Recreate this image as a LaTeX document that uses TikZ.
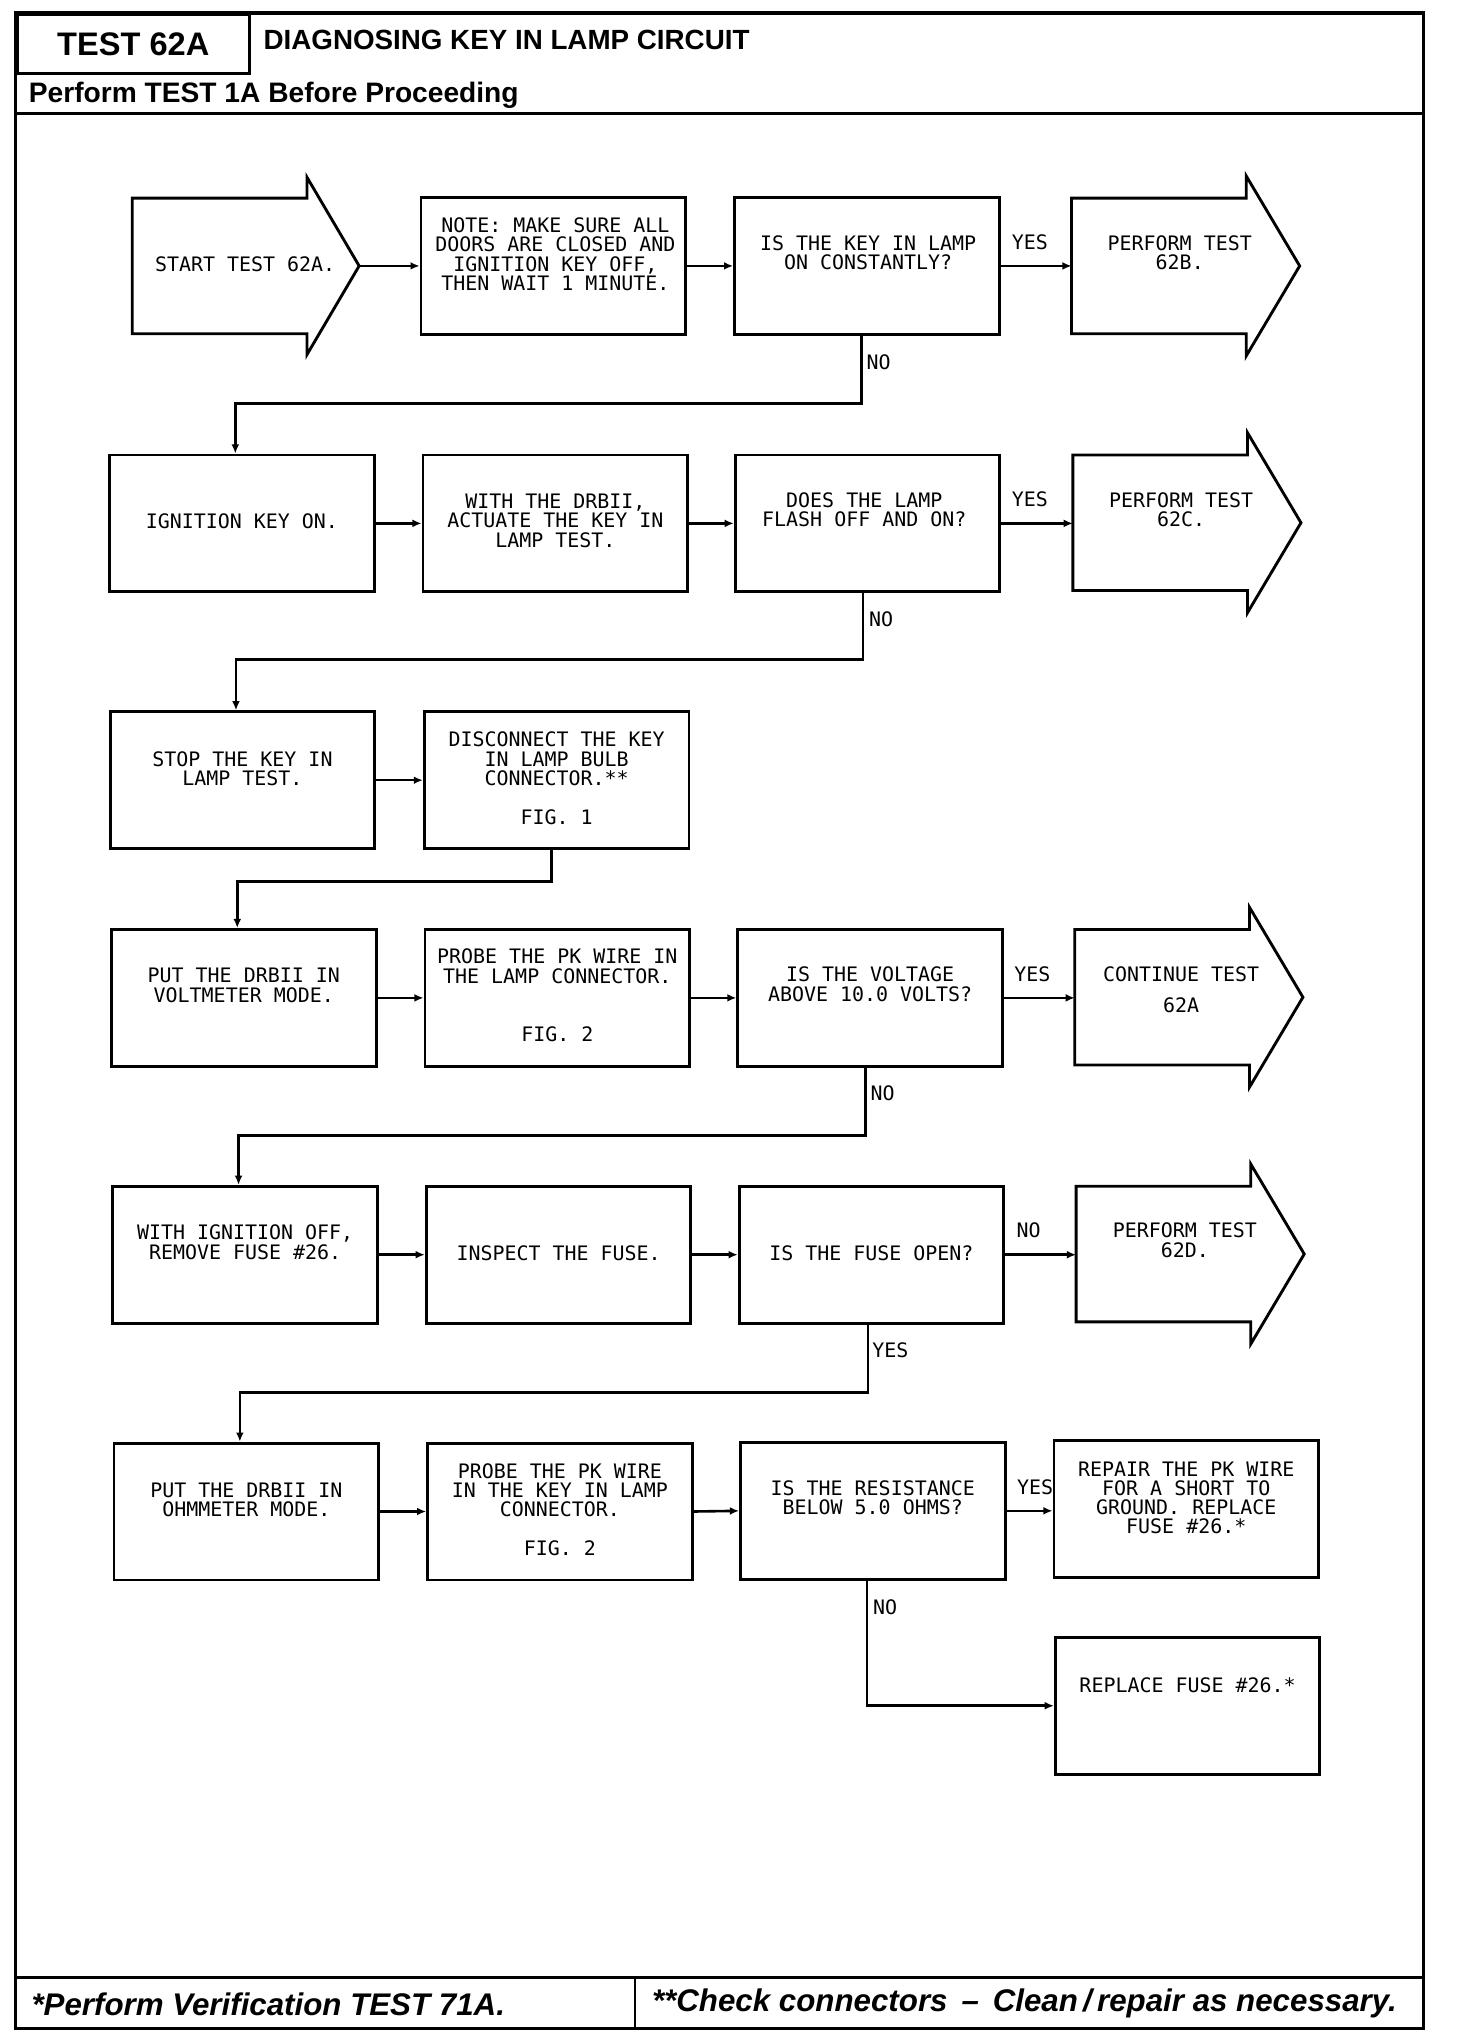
\documentclass[tikz,border=0pt]{standalone}
\usepackage{fontspec}
\newfontfamily\plotfont{DejaVu Sans Mono}
\newfontfamily\helfont{Liberation Sans}
\usetikzlibrary{arrows.meta}
\begin{document}
\begin{tikzpicture}[x=1pt,y=-1pt,
  frame/.style={line width=2.5pt},
  box/.style={draw, line width=2.2pt, rectangle, inner sep=0pt,
    minimum width=203pt, minimum height=105pt},
  abox/.style={rectangle, inner sep=0pt, outer sep=0pt,
    minimum width=134pt, minimum height=104pt},
  aline/.style={draw, line width=2.2pt, line join=miter},
  conn/.style={line width=2pt, -{Latex[length=7pt,width=6pt]}},
  txt/.style={font={\plotfont\fontsize{15.3}{14.8}\selectfont}, align=center, inner sep=0pt},
  lbl/.style={font={\plotfont\fontsize{15.3}{14.8}\selectfont}, inner sep=0pt},
  hdr/.style={font={\helfont\bfseries\fontsize{21.3}{24}\selectfont}, inner sep=0pt},
  ftr/.style={font={\helfont\bfseries\itshape\fontsize{24}{28}\selectfont}, inner sep=0pt}
]
\useasboundingbox (0,0) rectangle (1117,1568);
\fill[white] (0,0) rectangle (1117,1568);

% ---------- frame and header ----------
\draw[frame] (12,10) rectangle (1092,1556);
\draw[frame] (12,87) -- (1092,87);
\node[draw, line width=2.5pt, inner sep=0pt, minimum width=178pt, minimum height=45pt,
  anchor=north west, font={\helfont\bfseries\fontsize{25}{28}\selectfont}] (title) at (12,10) {TEST 62A};
\node[hdr, anchor=base west] (head) at (202,38) {DIAGNOSING KEY IN LAMP CIRCUIT};
\node[hdr, font={\helfont\bfseries\fontsize{21.6}{24}\selectfont}, anchor=base west] (pre) at (22,79) {Perform TEST 1A Before Proceeding};

% ---------- footer ----------
\draw[frame] (12,1517) -- (1092,1517);
\draw[line width=1.5pt] (487,1517) -- (487,1556);
\node[ftr, anchor=base west] (f1) at (24,1546) {*Perform Verification TEST 71A.};
\node[ftr, anchor=base west] (f2) at (500,1543) {**Check connectors \,–\, Clean\,/\,repair as necessary.};

% ---------- row 1 ----------
\node[abox] (s) at (168.5,204) {};
\draw[aline] (s.north west) -- (s.north east) -- ([yshift=16pt]s.north east) -- ([xshift=40pt]s.east)
  -- ([yshift=-16pt]s.south east) -- (s.south east) -- (s.south west) -- cycle;
\coordinate (stip) at ([xshift=40pt]s.east);
\node[txt] (ts) at (188,203) {START TEST 62A.};

\node[box] (note) at (424.5,204) {};
\node[txt] (tnote) at (426,195) {NOTE: MAKE SURE ALL\\DOORS ARE CLOSED AND\\IGNITION KEY OFF,\\THEN WAIT 1 MINUTE.};

\node[box] (q1) at (665,204) {};
\node[txt] (tq1) at (666,194) {IS THE KEY IN LAMP\\ON CONSTANTLY?};

\node[abox] (e1) at (889,204) {};
\draw[aline] (e1.north west) -- (e1.north east) -- ([yshift=17pt]e1.north east) -- ([xshift=41pt]e1.east)
  -- ([yshift=-17pt]e1.south east) -- (e1.south east) -- (e1.south west) -- cycle;
\node[txt] (te1) at (905,194) {PERFORM TEST\\62B.};

\draw[conn] (stip) -- (note.west);
\draw[conn] (note.east) -- (q1.west);
\draw[conn] (q1.east) -- (e1.west);
\node[lbl] (yes1) at (790,186) {YES};
\node[lbl] (no1) at (674,278) {NO};

% ---------- row 2 ----------
\node[box] (b21) at (185.5,401.5) {};
\node[txt] (t21) at (185.5,400) {IGNITION KEY ON.};
\node[box] (b22) at (426,401.5) {};
\node[txt] (t22) at (426,399.5) {WITH THE DRBII,\\ACTUATE THE KEY IN\\LAMP TEST.};
\node[box] (q2) at (665.5,401.5) {};
\node[txt] (tq2) at (663,391) {DOES THE LAMP\\FLASH OFF AND ON?};
\node[abox] (e2) at (890,401) {};
\draw[aline] (e2.north west) -- (e2.north east) -- ([yshift=17pt]e2.north east) -- ([xshift=41pt]e2.east)
  -- ([yshift=-17pt]e2.south east) -- (e2.south east) -- (e2.south west) -- cycle;
\node[txt] (te2) at (906,391) {PERFORM TEST\\62C.};

\draw[conn] (b21.east) -- (b22.west);
\draw[conn] (b22.east) -- (q2.west);
\draw[conn] (q2.east) -- (q2.east -| e2.west);
\node[lbl] (yes2) at (790,383) {YES};
\node[lbl] (no2) at (676,475) {NO};
\draw[conn] ([xshift=-4pt]q1.south) -- ++(0,52) -| ([xshift=-5pt]b21.north);

% ---------- row 3 ----------
\node[box] (b31) at (186,598.5) {};
\node[txt] (t31) at (186,589.5) {STOP THE KEY IN\\LAMP TEST.};
\node[box] (b32) at (427,598.5) {};
\node[txt] (t32) at (427,597) {DISCONNECT THE KEY\\IN LAMP BULB\\CONNECTOR.**\\[14.8pt]FIG. 1};

\draw[conn] (b31.east) -- (b32.west);
\draw[conn] ([xshift=-3.5pt]q2.south) -- ++(0,51) -| ([xshift=-5pt]b31.north);

% ---------- row 4 ----------
\node[box] (b41) at (187,765.5) {};
\node[txt] (t41) at (187,756) {PUT THE DRBII IN\\VOLTMETER MODE.};
\node[box] (b42) at (427.5,765.5) {};
\node[txt] (t42) at (427.5,763.5) {PROBE THE PK WIRE IN\\THE LAMP CONNECTOR.\\[29.6pt]FIG. 2};
\node[box] (q3) at (667.5,765.5) {};
\node[txt] (tq3) at (667.5,755) {IS THE VOLTAGE\\ABOVE 10.0 VOLTS?};
\node[abox] (e3) at (891.5,765) {};
\draw[aline] (e3.north west) -- (e3.north east) -- ([yshift=17pt]e3.north east) -- ([xshift=41pt]e3.east)
  -- ([yshift=-17pt]e3.south east) -- (e3.south east) -- (e3.south west) -- cycle;
\node[txt] (te3) at (906,759) {CONTINUE TEST\\[9pt]62A};

\draw[conn] (b41.east) -- (b42.west);
\draw[conn] (b42.east) -- (q3.west);
\draw[conn] (q3.east) -- (q3.east -| e3.west);
\node[lbl] (yes3) at (792,747) {YES};
\node[lbl] (no3) at (677,839) {NO};
\draw[conn] ([xshift=-4pt]b32.south) -- ++(0,24) -| ([xshift=-5pt]b41.north);

% ---------- row 5 ----------
\node[box] (b51) at (188,962.5) {};
\node[txt] (t51) at (188,953) {WITH IGNITION OFF,\\REMOVE FUSE \#26.};
\node[box] (b52) at (428.5,962.5) {};
\node[txt] (t52) at (428.5,961) {INSPECT THE FUSE.};
\node[box] (q4) at (668.5,962.5) {};
\node[txt] (tq4) at (668.5,961) {IS THE FUSE OPEN?};
\node[abox] (e4) at (892.5,962) {};
\draw[aline] (e4.north west) -- (e4.north east) -- ([yshift=17pt]e4.north east) -- ([xshift=41pt]e4.east)
  -- ([yshift=-17pt]e4.south east) -- (e4.south east) -- (e4.south west) -- cycle;
\node[txt] (te4) at (909,951.5) {PERFORM TEST\\62D.};

\draw[conn] (b51.east) -- (b52.west);
\draw[conn] (b52.east) -- (q4.west);
\draw[conn] (q4.east) -- (q4.east -| e4.west);
\node[lbl] (no4) at (789,944) {NO};
\node[lbl] (yes4) at (683,1036) {YES};
\draw[conn] ([xshift=-3.5pt]q3.south) -- ++(0,52) -| ([xshift=-5pt]b51.north);

% ---------- row 6 ----------
\node[box] (b61) at (189,1159.5) {};
\node[txt] (t61) at (189,1150.5) {PUT THE DRBII IN\\OHMMETER MODE.};
\node[box] (b62) at (429.5,1159.5) {};
\node[txt] (t62) at (429.5,1158) {PROBE THE PK WIRE\\IN THE KEY IN LAMP\\CONNECTOR.\\[14.8pt]FIG. 2};
\node[box] (q5) at (669.5,1159) {};
\node[txt] (tq5) at (669.5,1149) {IS THE RESISTANCE\\BELOW 5.0 OHMS?};
\node[box] (b64) at (910,1157.5) {};
\node[txt] (t64) at (910,1149) {REPAIR THE PK WIRE\\FOR A SHORT TO\\GROUND. REPLACE\\FUSE \#26.*};

\draw[conn] (b61.east) -- (b62.west);
\draw[conn] (b62.east) -- (q5.west);
\draw[conn] (q5.east) -- (q5.east -| b64.west);
\node[lbl] (yes5) at (794,1141) {YES};
\node[lbl] (no5) at (679,1233) {NO};
\draw[conn] ([xshift=-2.5pt]q4.south) -- ++(0,52) -| ([xshift=-5pt]b61.north);

% ---------- row 7 ----------
\node[box] (b74) at (911,1308.5) {};
\node[txt] (t74) at (911,1293) {REPLACE FUSE \#26.*};
\draw[conn] ([xshift=-4.5pt]q5.south) |- (b74.west);

\end{tikzpicture}
\end{document}
